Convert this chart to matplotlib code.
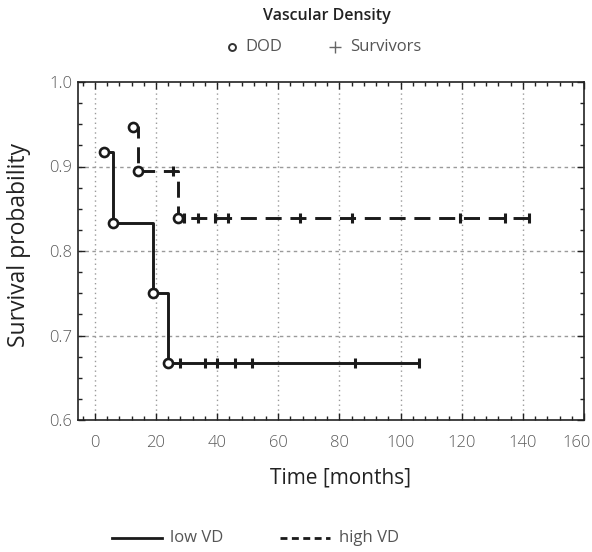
import matplotlib
matplotlib.use('Agg')
import matplotlib.pyplot as plt
from matplotlib.lines import Line2D
from matplotlib.ticker import MultipleLocator
import matplotlib.transforms as mtransforms

plt.rcParams['font.family'] = ['Open Sans', 'DejaVu Sans']

# low VD: deaths (time, survival) and censored times
low_death_t = [3, 6, 19, 24]
low_death_s = [0.917, 0.833, 0.75, 0.667]
low_cens_t = [28, 36, 40, 46, 51.5, 85, 106]

# high VD
high_death_t = [12.5, 14, 27.2]
high_death_s = [0.947, 0.895, 0.839]
high_cens_t = [25.5, 29.2, 33.8, 39.3, 43.6, 67, 84, 119.3, 134, 142]

xticks = [0, 20, 40, 60, 80, 100, 120, 140, 160]
yticks = [0.6, 0.7, 0.8, 0.9, 1.0]

W, H = 592, 552


def curve(death_t, death_s, cens_t):
    xs = list(death_t) + [max(cens_t)]
    ys = list(death_s) + [death_s[-1]]
    cy = []
    for c in cens_t:
        s = death_s[0]
        for t, v in zip(death_t, death_s):
            if t <= c:
                s = v
        cy.append(s)
    return xs, ys, cy


def fx(px):
    return px / W


def fy(py):
    return 1 - py / H


fig = plt.figure(figsize=(W / 100, H / 100), dpi=100)
ax = fig.add_axes([fx(78), fy(420), fx(584) - fx(78), fy(82) - fy(420)])

lw = 2.1
dash = (0, (5.5, 3))

xs, ys, cy = curve(low_death_t, low_death_s, low_cens_t)
ax.plot(xs, ys, drawstyle='steps-post', color='#1a1a1a', lw=lw, zorder=3)
ax.plot(low_cens_t, cy, ls='none', marker='|', ms=7.5, mew=2.2, color='#1a1a1a', zorder=4)
ax.plot(low_death_t, low_death_s, ls='none', marker='o', ms=6.5, mew=1.9,
        mfc='white', mec='#1a1a1a', zorder=5)

xs, ys, cy = curve(high_death_t, high_death_s, high_cens_t)
ax.plot(xs, ys, drawstyle='steps-post', color='#1a1a1a', lw=lw, ls=dash, zorder=3)
ax.plot(high_cens_t, cy, ls='none', marker='|', ms=7.5, mew=2.2, color='#1a1a1a', zorder=4)
ax.plot(high_death_t, high_death_s, ls='none', marker='o', ms=6.5, mew=1.9,
        mfc='white', mec='#1a1a1a', zorder=5)

ax.set_xlim(-5.5, 160)
ax.set_ylim(0.6, 1.0)
ax.set_xticks(xticks)
ax.set_yticks(yticks)
ax.set_yticklabels(['%.1f' % v for v in yticks])
ax.xaxis.set_minor_locator(MultipleLocator(4))
ax.yaxis.set_minor_locator(MultipleLocator(0.025))

# grid: dotted vertical, short dashes horizontal
for v in xticks[:-1]:
    ax.axvline(v, color='#9a9a9a', lw=1, ls=(0, (1, 2.5)), zorder=1)
for v in yticks[1:-1]:
    ax.axhline(v, color='#9a9a9a', lw=1, ls=(0, (2.5, 2.5)), zorder=1)

ax.tick_params(which='both', direction='in', top=True, right=True, color='#222222', width=1)
ax.tick_params(which='major', length=5)
ax.tick_params(which='minor', length=2.8)
ax.tick_params(axis='x', which='major', pad=11, labelsize=12, labelcolor='#5a5a5a')
ax.tick_params(axis='y', which='major', pad=4, labelsize=12, labelcolor='#5a5a5a')
for lab in ax.get_xticklabels() + ax.get_yticklabels():
    lab.set_fontweight('light')
for sp in ax.spines.values():
    sp.set_linewidth(1.2)
    sp.set_color('#222222')

# last x label sits left of its tick
lab = ax.get_xticklabels()[-1]
lab.set_transform(lab.get_transform() + mtransforms.ScaledTranslation(-8 / 100, 0, fig.dpi_scale_trans))

fig.text(fx(19), fy(245), 'Survival probability', rotation=90, ha='center', va='center',
         fontsize=16.5, color='#222222')
fig.text(fx(340), fy(478), 'Time [months]', ha='center', va='center', fontsize=15, color='#222222')

# top legend
fig.text(fx(327), fy(16), 'Vascular Density', ha='center', va='center', fontsize=11.5,
         fontweight='semibold', color='#222222')
fig.add_artist(Line2D([fx(232)], [fy(47)], marker='o', ms=5, mew=1.4, mfc='white',
                      mec='#333333', transform=fig.transFigure))
fig.text(fx(245), fy(47), 'DOD', ha='left', va='center', fontsize=12, color='#555555')
fig.add_artist(Line2D([fx(335)], [fy(47)], marker='+', ms=8, mew=1, color='#666666',
                      transform=fig.transFigure))
fig.text(fx(350), fy(47), 'Survivors', ha='left', va='center', fontsize=12, color='#555555')

# bottom legend
fig.add_artist(Line2D([fx(112), fx(162)], [fy(538), fy(538)], color='#1a1a1a', lw=2,
                      transform=fig.transFigure))
fig.text(fx(170), fy(538), 'low VD', ha='left', va='center', fontsize=12, color='#555555')
fig.add_artist(Line2D([fx(280), fx(330)], [fy(538), fy(538)], color='#1a1a1a', lw=2,
                      ls=(0, (2.5, 1.6)), transform=fig.transFigure))
fig.text(fx(339), fy(538), 'high VD', ha='left', va='center', fontsize=12, color='#555555')

fig.savefig('out.png', dpi=100)
